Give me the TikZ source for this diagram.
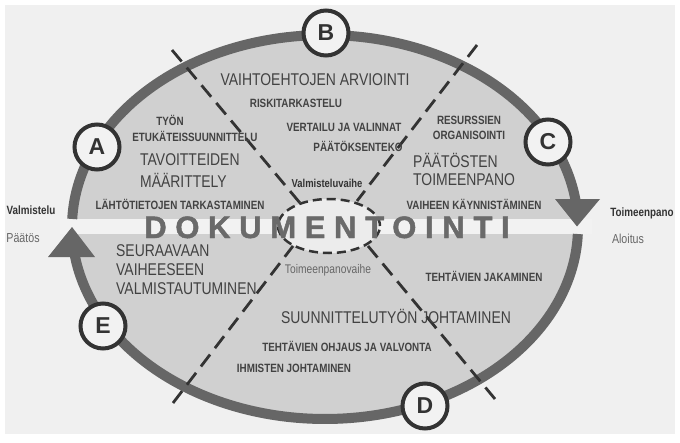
\documentclass[tikz,border=0pt]{standalone}
\usepackage{fontspec}
\usetikzlibrary{shapes.geometric}
\setmainfont{Liberation Sans}
\newfontfamily\narr{Liberation Sans}[FakeStretch=0.82]
\newfontfamily\dokfont{Liberation Sans}[LetterSpace=28, FakeBold=1.5]
\definecolor{bgc}{HTML}{F0F0F0}
\definecolor{bandc}{HTML}{F2F2F2}
\definecolor{fillc}{HTML}{D0D0D0}
\definecolor{ringc}{HTML}{666666}
\definecolor{txt}{HTML}{424242}
\definecolor{graytxt}{HTML}{666666}
\definecolor{circc}{HTML}{333333}
\definecolor{cfill}{HTML}{F2F2F2}
\definecolor{innerc}{HTML}{ECECEC}
\definecolor{dashc}{HTML}{333333}
\definecolor{dokc}{HTML}{6A6A6A}
\tikzset{
  big/.style={font=\narr\fontsize{17}{19}\selectfont, text=txt, inner sep=0pt},
  small/.style={font=\narr\bfseries\fontsize{12}{14}\selectfont, text=txt, inner sep=0pt},
  side/.style={font=\narr\bfseries\fontsize{12}{14}\selectfont, text=circc, inner sep=0pt},
  sidegray/.style={font=\narr\fontsize{13}{15}\selectfont, text=graytxt, inner sep=0pt},
  letterc/.style={circle, draw=circc, line width=4pt, fill=cfill, minimum size=45pt, inner sep=0pt,
    font=\bfseries\fontsize{23}{23}\selectfont, text=circc},
  ringline/.style={draw=ringc, line width=10pt},
  sector/.style={draw=dashc, line width=2.8pt, dash pattern=on 15pt off 8pt},
  dokstyle/.style={inner sep=0pt, text depth=0pt, font=\dokfont\bfseries\fontsize{31}{31}\selectfont},
}
\begin{document}
\begin{tikzpicture}[x=1pt,y=-1pt]
\useasboundingbox (0,0) rectangle (680,442);
% background
\fill[bgc] (5,5) rectangle (675,434);
% main ellipse fill
\fill[fillc] (325,227) ellipse [x radius=253, y radius=192];
% band
\fill[bandc] (60,219) rectangle (592,234);
% ring arcs
\draw[ringline] plot[domain=182.4:353, samples=120] ({325+253*cos(\x)},{227+192*sin(\x)});
\draw[ringline] plot[domain=2.1:172.5, samples=120] ({325+253*cos(\x)},{227+192*sin(\x)});
% arrowheads
\fill[ringc] (555,199) -- (600,199) -- (577,226.5) -- cycle;
\fill[ringc] (48,257) -- (95,257) -- (72,227) -- cycle;
% inner ellipse
\node[ellipse, draw=dashc, line width=2.5pt, dash pattern=on 9pt off 5pt, fill=innerc,
  minimum width=102pt, minimum height=54pt, inner sep=0pt] (inner) at (329,226) {};
% sector lines
\coordinate (ulo) at (172,50);   \coordinate (uli) at (300,203);
\coordinate (uro) at (477,45);   \coordinate (uri) at (357,201);
\coordinate (llo) at (173,403);  \coordinate (lli) at (293,246);
\coordinate (lro) at (495,399);  \coordinate (lri) at (368,246);
\draw[sector] (ulo) -- (uli);
\draw[sector] (uro) -- (uri);
\draw[sector] (llo) -- (lli);
\draw[sector] (lro) -- (lri);
% circles
\node[letterc] (A) at (97,147) {A};
\node[letterc] (B) at (326,33) {B};
\node[letterc] (C) at (548,142) {C};
\node[letterc] (D) at (425,406) {D};
\node[letterc] (E) at (103,326) {E};
% DOKUMENTOINTI
\node[dokstyle, text=dokc, anchor=base] (dok) at (327,238) {DOKUMENTOINTI};
% upper texts
\node[big] (vaiht) at (315,80) {VAIHTOEHTOJEN ARVIOINTI};
\node[small] (riski) at (296,103) {RISKITARKASTELU};
\node[small] (vert) at (344,127) {VERTAILU JA VALINNAT};
\node[small] (paat) at (358,146) {PÄÄTÖKSENTEKO};
\node[small] (tyon) at (170,120) {TYÖN};
\node[small] (etuk) at (195,136) {ETUKÄTEISSUUNNITTELU};
\node[big, anchor=west] (tavo) at (140,160) {TAVOITTEIDEN};
\node[big, anchor=west] (maar) at (140,180) {MÄÄRITTELY};
\node[small] (laht) at (180,204) {LÄHTÖTIETOJEN TARKASTAMINEN};
\node[font=\narr\bfseries\fontsize{11.5}{13}\selectfont, text=circc, inner sep=0pt] (valvh) at (327,183) {Valmisteluvaihe};
\node[small] (resu) at (469,120) {RESURSSIEN};
\node[small] (orga) at (469,135) {ORGANISOINTI};
\node[big, anchor=west] (paatos) at (413,160) {PÄÄTÖSTEN};
\node[big, anchor=west] (toim) at (413,180) {TOIMEENPANO};
\node[small] (vaihk) at (474,204) {VAIHEEN KÄYNNISTÄMINEN};
% lower texts
\node[big, anchor=west] (seur) at (116,251) {SEURAAVAAN};
\node[big, anchor=west] (vaihe) at (116,270) {VAIHEESEEN};
\node[big, anchor=west] (valm) at (116,289) {VALMISTAUTUMINEN};
\node[font=\narr\fontsize{12.5}{14}\selectfont, text=graytxt, inner sep=0pt] (toimvh) at (328,270) {Toimeenpanovaihe};
\node[small] (tehtj) at (484,276) {TEHTÄVIEN JAKAMINEN};
\node[big] (suun) at (396,316) {SUUNNITTELUTYÖN JOHTAMINEN};
\node[small] (tehto) at (347,346) {TEHTÄVIEN OHJAUS JA VALVONTA};
\node[small] (ihm) at (294,368) {IHMISTEN JOHTAMINEN};
% side labels
\node[side] (valmistelu) at (31,210) {Valmistelu};
\node[sidegray] (paatos2) at (23,238) {Päätös};
\node[side] (toimeenpano) at (642,213) {Toimeenpano};
\node[sidegray] (aloitus) at (628,239) {Aloitus};
\end{tikzpicture}
\end{document}
